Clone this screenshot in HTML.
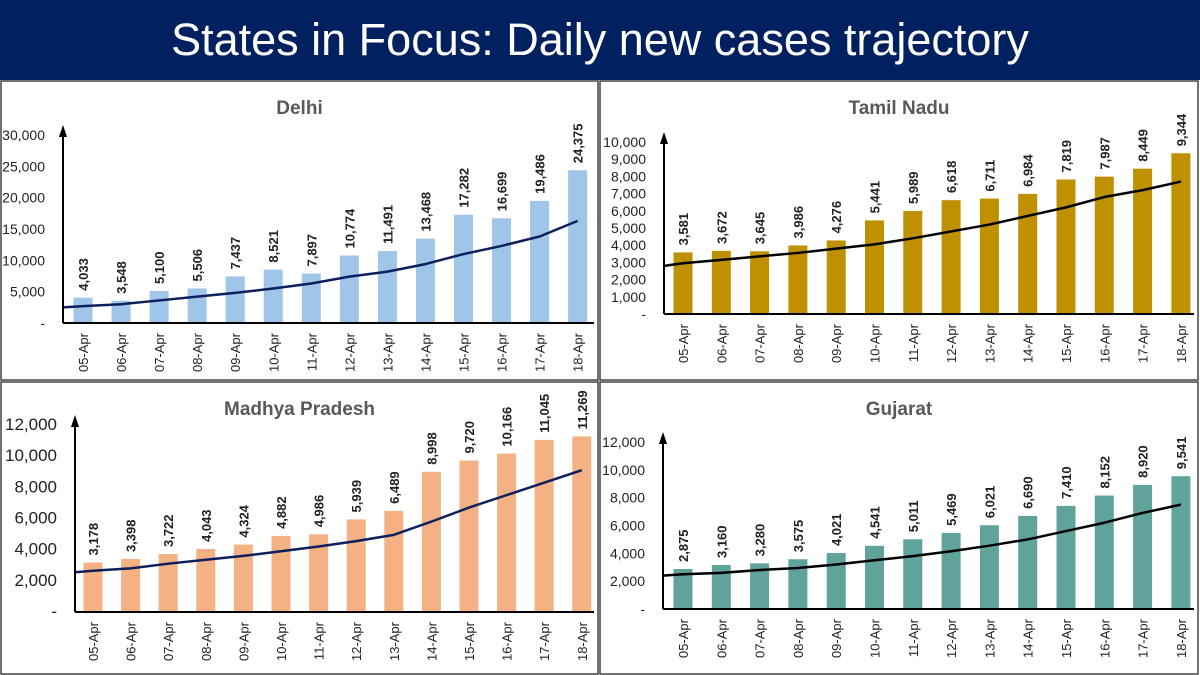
<!DOCTYPE html>
<html><head><meta charset="utf-8">
<style>
body{margin:0;width:1200px;height:675px;background:#fff;overflow:hidden;font-family:"Liberation Sans",sans-serif}
#title{position:absolute;left:0;top:0;width:1200px;height:80px;background:#002060;color:#fff;font-size:45px;text-align:center;line-height:80px}
svg{position:absolute;left:0;top:0}
</style></head><body>
<div id="title">States in Focus: Daily new cases trajectory</div>
<svg id="chart" width="1200" height="675"></svg>
<script>
const categories=["05-Apr","06-Apr","07-Apr","08-Apr","09-Apr","10-Apr","11-Apr","12-Apr","13-Apr","14-Apr","15-Apr","16-Apr","17-Apr","18-Apr"];
const delhiValues=[4033,3548,5100,5506,7437,8521,7897,10774,11491,13468,17282,16699,19486,24375];
const delhiTrend=[2500,2700,3000,3600,4200,4800,5500,6300,7400,8200,9400,11000,12300,13800,16300];
const tnValues=[3581,3672,3645,3986,4276,5441,5989,6618,6711,6984,7819,7987,8449,9344];
const tnTrend=[2800,2950,3150,3350,3550,3800,4050,4400,4800,5200,5700,6200,6800,7200,7700];
const mpValues=[3178,3398,3722,4043,4324,4882,4986,5939,6489,8998,9720,10166,11045,11269];
const mpTrend=[2550,2650,2800,3100,3350,3600,3900,4200,4550,4950,5800,6700,7500,8300,9100];
const gujValues=[2875,3160,3280,3575,4021,4541,5011,5469,6021,6690,7410,8152,8920,9541];
const gujTrend=[2400,2500,2600,2800,2950,3200,3500,3800,4150,4550,5000,5600,6200,6900,7500];
const delhiTicks=["-","5,000","10,000","15,000","20,000","25,000","30,000"];
const tnTicks=["-","1,000","2,000","3,000","4,000","5,000","6,000","7,000","8,000","9,000","10,000"];
const mpTicks=["-","2,000","4,000","6,000","8,000","10,000","12,000"];
const gujTicks=["-","2,000","4,000","6,000","8,000","10,000","12,000"];

const svg=document.getElementById('chart');
const NS="http://www.w3.org/2000/svg";
function mk(tag,attrs,parent){const e=document.createElementNS(NS,tag);for(const k in attrs)e.setAttribute(k,attrs[k]);(parent||svg).appendChild(e);return e;}

function panel(p){
  const g=mk('g',{});
  
  
  mk('rect',{x:p.px,y:p.py,width:p.pw,height:p.ph,fill:'#fff',stroke:'#444','stroke-width':1.5},g);
  const t=mk('text',{x:p.px+p.pw/2,y:p.py+33,'text-anchor':'middle','font-size':19,'font-weight':'bold',fill:'#595959'},g);
  t.textContent=p.title;
  
  
  const y=v=>p.base-(v/p.max)*(p.base-p.top);
  const x=i=>p.x0+i*p.step;
  p.ticks.forEach((lab,i)=>{
    const v=p.max*i/(p.ticks.length-1);
    const tt=mk('text',{x:p.ax-18,y:y(v)+5,'text-anchor':'end','font-size':p.tf,fill:'#222'},g);
    tt.textContent=lab;
    
    
  });
  p.values.forEach((v,i)=>{
    const b=mk('rect',{x:x(i)-9.5,y:y(v),width:19,height:p.base-y(v),fill:p.color},g);
    
    
    const lx=x(i)+5,ly=y(v)-7;
    const vl=mk('text',{x:lx,y:ly,transform:`rotate(-90 ${lx} ${ly})`,'font-size':13,'font-weight':'bold',fill:'#222'},g);
    vl.textContent=v.toLocaleString('en-US');
    
    
    const cx=x(i)+5,cy=p.base+10;
    const cl=mk('text',{x:cx,y:cy,transform:`rotate(-90 ${cx} ${cy})`,'text-anchor':'end','font-size':13,fill:'#222'},g);
    cl.textContent=categories[i];
    
    
  });
  let d='';
  p.trend.forEach((v,i)=>{const xx=i===0?p.ax:x(i-1);d+=(i?'L':'M')+xx+','+y(v);});
  const tl=mk('path',{d:d,fill:'none',stroke:p.lc,'stroke-width':2.5,'stroke-linejoin':'round'},g);
  
  
  const xa=mk('line',{x1:p.ax,y1:p.base,x2:p.pw+p.px-4,y2:p.base,stroke:'#000','stroke-width':2},g);
  
  
  const ya=mk('line',{x1:p.ax,y1:p.base,x2:p.ax,y2:p.top-6,stroke:'#000','stroke-width':2},g);
  
  
  const ar=mk('path',{d:`M${p.ax-4},${p.top+2}L${p.ax},${p.top-10}L${p.ax+4},${p.top+2}Z`,fill:'#000'},g);
  
  
}
panel({name:'delhi',title:'Delhi',px:1,py:81,pw:597,ph:299,ax:63,base:323,top:135,max:30000,x0:83,step:38.05,tf:14,ticks:delhiTicks,values:delhiValues,trend:delhiTrend,color:'#9fc5e8',lc:'#0d1f5c'});
panel({name:'tamil-nadu',title:'Tamil Nadu',px:600,py:81,pw:598,ph:299,ax:664,base:314,top:142,max:10000,x0:683,step:38.3,tf:14,ticks:tnTicks,values:tnValues,trend:tnTrend,color:'#bf9000',lc:'#000'});
panel({name:'madhya-pradesh',title:'Madhya Pradesh',px:1,py:382,pw:597,ph:292,ax:75,base:612,top:425,max:12000,x0:93,step:37.6,tf:17,ticks:mpTicks,values:mpValues,trend:mpTrend,color:'#f4b183',lc:'#0d1f5c'});
panel({name:'gujarat',title:'Gujarat',px:600,py:382,pw:598,ph:292,ax:663,base:609,top:442,max:12000,x0:683,step:38.3,tf:14,ticks:gujTicks,values:gujValues,trend:gujTrend,color:'#5fa39a',lc:'#000'});
</script>
</body></html>
